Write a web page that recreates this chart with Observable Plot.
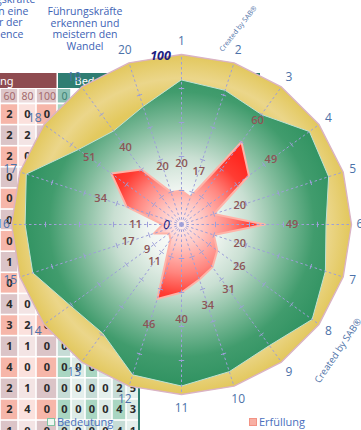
<!DOCTYPE html>
<html>
<head>
<meta charset="utf-8">
<script src="https://cdn.jsdelivr.net/npm/d3@7"></script>
<script src="https://cdn.jsdelivr.net/npm/@observablehq/plot@0.6"></script>
<style>
  html, body { margin: 0; padding: 0; background: #fff; }
  #wrap { position: relative; width: 361px; height: 430px; overflow: hidden; font-family: "Open Sans", sans-serif; }
  #wrap svg { position: absolute; left: 0; top: 0; }
  .head { position: absolute; font-size: 10.5px; line-height: 11.6px; color: #3d62b5; white-space: nowrap; }
  .legend { position: absolute; font-size: 11px; color: #4a6fbd; display: flex; align-items: center; gap: 2px; white-space: nowrap; }
  .sw { width: 6px; height: 6px; display: inline-block; }
  .sab { position: absolute; color: #4f73a8; white-space: nowrap; transform-origin: center center; }
</style>
</head>
<body>
<div id="wrap"></div>
<script>
// ---- Radar data: 20 criteria, numbered clockwise from the top ----
const axes = d3.range(1, 21);
const importance = [85, 83, 80, 93, 91, 85, 89, 95, 88, 91, 95, 93, 79, 81, 92, 92, 96, 75, 68, 73]; // Bedeutung
const fulfilment = [20, 17, 60, 49, 20, 49, 20, 26, 31, 34, 40, 46, 11, 9, 17, 11, 34, 51, 40, 20]; // Erfüllung
const fullScale = 100;
const gridSteps = [20, 40, 60, 80];

// ---- Spreadsheet behind the chart (counts per rating column) ----
const erfHeaders = ["60", "80", "100"];
const bedHeaders = ["0"];
const col60  = [2, 2, 2, 0, 0, 0, 0, 1, 0, 4, 3, 1, 4, 2, 2, 1];
const col80  = [0, 2, 0, null, null, null, null, null, null, 0, 2, 1, 0, 1, 4, 0];
const col100 = [0, null, null, null, null, null, null, null, null, null, 0, 0, 0, 0, 0, 0];
const bed0   = [null, null, null, null, null, null, null, null, null, null, null, 0, 0, 0, 0, 0];
const bed20  = [null, null, null, null, null, null, null, null, null, null, null, null, 0, 0, 0, 0];
const bed40  = [null, null, null, null, null, null, null, null, null, null, null, null, 0, 0, 0, 0];
const bed60  = [null, null, null, null, null, null, null, null, null, null, null, null, null, 0, 0, 0];
const bed80  = [null, null, null, null, null, null, null, null, null, null, null, null, null, 2, 4, 4];
const bed100 = [null, null, null, null, null, null, null, null, null, null, null, null, null, 5, 3, 1];

const W = 361, H = 430;
const wrap = document.getElementById("wrap");

// ---------- spreadsheet layer ----------
const colEdges = [0, 18, 36, 57, 71, 85, 98, 112, 126, 139];
const rowTop = 103.5, rowH = 21.1;
const columns = [col60, col80, col100, bed0, bed20, bed40, bed60, bed80, bed100];
const cells = [];
columns.forEach((col, c) => col.forEach((v, r) => cells.push({c, r, v})));
function cellFill(d) {
  const even = d.r % 2 === 0;
  if (d.c < 3) {
    if (d.c === 1) return even ? "#fbe1dd" : "#f3e4e4";
    return even ? "#f6b6a9" : "#dbc4c7";
  }
  const strong = (d.c - 3) % 2 === 0;
  if (strong) return even ? "#a9d6c2" : "#c6dcd6";
  return even ? "#dcebe6" : "#e4efec";
}
const subHead = [
  ...erfHeaders.map((t, i) => ({c: i, t, fill: i === 1 ? "#ecdcdd" : "#dcc4c7", ink: "#a46a6c"})),
  ...bedHeaders.map((t, i) => ({c: 3 + i, t, fill: "#8dc1b5", ink: "#3d8274"}))
];

const table = Plot.plot({
  width: W, height: H, margin: 0,
  x: {domain: [0, W], range: [0, W], axis: null},
  y: {domain: [0, H], range: [0, H], axis: null},
  color: {type: "identity"},
  style: {background: "white", overflow: "hidden"},
  marks: [
    // header bars
    Plot.rect([{x1: -60, x2: 56.5, y1: 73, y2: 88, f: "#8e4b50"}, {x1: 58, x2: 260, y1: 73, y2: 88, f: "#2f7d72"}],
      {x1: "x1", x2: "x2", y1: "y1", y2: "y2", fill: "f"}),
    Plot.text(["Erfüllung"], {x: 13, y: 80.5, text: d => d, textAnchor: "end", fill: "white", fontSize: 11}),
    Plot.text(["Bedeutung"], {x: 74, y: 80.5, text: d => d, textAnchor: "start", fill: "white", fontSize: 11}),
    // sub-header with rating levels
    Plot.rect(subHead, {x1: d => colEdges[d.c] + 0.8, x2: d => colEdges[d.c + 1] - 0.8, y1: 89, y2: 102.5, fill: "fill"}),
    Plot.text(subHead, {x: d => (colEdges[d.c] + colEdges[d.c + 1]) / 2, y: 96, text: "t", fill: "ink", fontSize: 10.5}),
    // body cells
    Plot.rect(cells, {
      x1: d => colEdges[d.c] + 0.8, x2: d => colEdges[d.c + 1] - 0.8,
      y1: d => rowTop + d.r * rowH + 0.8, y2: d => rowTop + (d.r + 1) * rowH - 0.8,
      fill: cellFill
    }),
    Plot.text(cells.filter(d => d.v != null), {
      x: d => (colEdges[d.c] + colEdges[d.c + 1]) / 2,
      y: d => rowTop + (d.r + 0.5) * rowH,
      text: "v", fill: "#2a2a2a", fontSize: 11, fontWeight: 700
    }),
    // right border of the Bedeutung block
    Plot.rect([0], {x1: 138, x2: 140, y1: 88, y2: H, fill: "#2f8071"})
  ]
});
wrap.appendChild(table);

// ---------- radar layer ----------
const cx = 181, cy = 224, R = 170;           // pixel centre and full-scale radius
const u = fullScale / R;
const angle = k => (k - 1) * 2 * Math.PI / axes.length;
const px = (k, v) => v * Math.sin(angle(k));
const py = (k, v) => v * Math.cos(angle(k));

const outerPts = axes.map(k => ({k, v: fullScale}));
const impPts = axes.map((k, i) => ({k, v: importance[i]}));
const fulPts = axes.map((k, i) => ({k, v: fulfilment[i]}));
const ticks = axes.flatMap(k => gridSteps.map(s => ({k, s})));
const tickHalf = 1.6;

function defs(index, scales) {
  const x0 = scales.x(0), y0 = scales.y(0), r = scales.x(fullScale) - x0;
  const g = d3.create("svg:defs");
  const add = (id, rad, stops) => {
    const rg = g.append("radialGradient").attr("id", id).attr("gradientUnits", "userSpaceOnUse")
      .attr("cx", x0).attr("cy", y0).attr("r", rad);
    stops.forEach(([o, c]) => rg.append("stop").attr("offset", o).attr("stop-color", c));
  };
  add("yellowFill", r, [[0, "#e3c95e"], [0.72, "#e3c95e"], [0.86, "#ebd68a"], [1, "#e2c75b"]]);
  add("greenFill", r, [[0, "#ffffff"], [0.2, "#f1f6f2"], [0.4, "#c9dfd2"], [0.6, "#80bb9b"], [0.78, "#419c6d"], [1, "#2a8f5d"]]);
  add("redFill", r * 0.52, [[0, "#fff0f0"], [0.25, "#ffc6c2"], [0.55, "#ff857e"], [0.8, "#ff3c33"], [1, "#ff2820"]]);
  return g.node();
}

const radar = Plot.plot({
  width: W, height: H, margin: 0,
  x: {domain: [-cx * u, (W - cx) * u], range: [0, W], axis: null},
  y: {domain: [-(H - cy) * u, cy * u], range: [H, 0], axis: null},
  style: {background: "transparent", overflow: "hidden", fontFamily: "Open Sans, sans-serif"},
  marks: [
    defs,
    Plot.line(outerPts, {x: d => px(d.k, d.v), y: d => py(d.k, d.v), curve: "linear-closed",
      fill: "url(#yellowFill)", stroke: "#dab3c4", strokeWidth: 1.4}),
    Plot.line(impPts, {x: d => px(d.k, d.v), y: d => py(d.k, d.v), curve: "linear-closed",
      fill: "url(#greenFill)", stroke: "#bfe2d4", strokeWidth: 1}),
    Plot.line(fulPts, {x: d => px(d.k, d.v), y: d => py(d.k, d.v), curve: "linear-closed",
      fill: "url(#redFill)", stroke: "#ffb3a8", strokeWidth: 2}),
    // dashed spokes with tick marks every 20
    Plot.link(axes, {x1: 0, y1: 0, x2: k => px(k, fullScale), y2: k => py(k, fullScale),
      stroke: "#9d9fd9", strokeWidth: 1, strokeDasharray: "2.5,2.5"}),
    Plot.link(ticks, {
      x1: d => px(d.k, d.s) + tickHalf * Math.cos(angle(d.k)), y1: d => py(d.k, d.s) - tickHalf * Math.sin(angle(d.k)),
      x2: d => px(d.k, d.s) - tickHalf * Math.cos(angle(d.k)), y2: d => py(d.k, d.s) + tickHalf * Math.sin(angle(d.k)),
      stroke: "#9d9fd9", strokeWidth: 1
    }),
    // fulfilment values
    Plot.text(fulPts, {x: d => px(d.k, d.v + 16), y: d => py(d.k, d.v + 16), text: "v",
      fill: "#8c5556", fontSize: 11, fontWeight: 600}),
    // criterion numbers
    Plot.text(axes, {
      x: k => px(k, 105 + 3 * Math.abs(Math.cos(angle(k)))),
      y: k => py(k, 105 + 3 * Math.abs(Math.cos(angle(k)))),
      text: k => k, fill: "#4c72a9", fontSize: 12
    }),
    // scale end points
    Plot.text([{v: fullScale}], {x: 0, y: "v", text: d => d.v, dx: -21, dy: 1, fill: "#1e1e82",
      fontSize: 12.5, fontStyle: "italic", fontWeight: 700}),
    Plot.text([{v: 0}], {x: 0, y: "v", text: d => d.v, dx: -15, fill: "#1e1e82",
      fontSize: 12.5, fontStyle: "italic"})
  ]
});
wrap.appendChild(radar);

// ---------- column headings, signature and legend ----------
function addDiv(cls, html, css) {
  const d = document.createElement("div");
  d.className = cls; d.innerHTML = html; Object.assign(d.style, css);
  wrap.appendChild(d); return d;
}
addDiv("head", "Führungskräfte<br>fördern eine<br>Kultur der<br>Excellence",
  {left: "-62px", width: "120px", top: "-6px", textAlign: "center"});
addDiv("head", "Führungskräfte<br>erkennen und<br>meistern den<br>Wandel",
  {left: "40px", width: "90px", top: "6px", textAlign: "center"});
addDiv("sab", "Created by SAB®", {left: "210px", top: "24px", fontSize: "7px", transform: "rotate(-52deg)"});
addDiv("sab", "Created by SAB®", {left: "300px", top: "344px", fontSize: "9.5px", transform: "rotate(-56deg)"});
addDiv("legend", '<span class="sw" style="border:1.2px solid #7fc4a3;background:#eef7f2"></span>Bedeutung',
  {left: "47px", top: "414px"});
addDiv("legend", '<span class="sw" style="border:1.2px solid #f29384;background:#f8b0a4"></span>Erfüllung',
  {left: "249px", top: "414px"});
</script>
</body>
</html>
